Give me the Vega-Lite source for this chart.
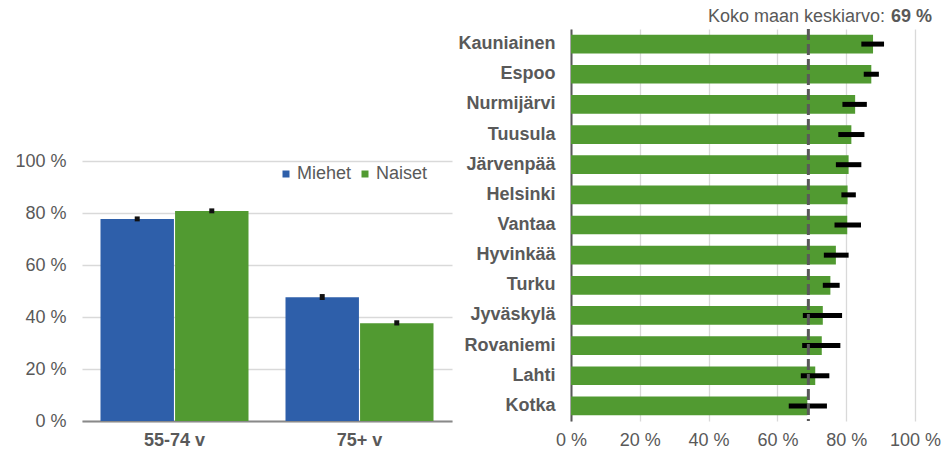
{
  "$schema": "https://vega.github.io/schema/vega-lite/v6.json",
  "padding": {"left": 14, "top": 8, "right": 5, "bottom": 5},
  "background": "white",
  "config": {
    "font": "Liberation Sans",
    "view": {"stroke": null},
    "axis": {"labelFont": "Liberation Sans", "labelColor": "#595959", "labelFontSize": 18, "ticks": false, "title": null, "gridColor": "#d9d9d9", "gridWidth": 1.3, "labelOverlap": false, "labelFlush": false},
    "legend": {"labelFont": "Liberation Sans", "labelColor": "#595959", "labelFontSize": 18}
  },
  "hconcat": [
    {
      "width": 370,
      "height": 392,
      "data": {"values": [
        {"group": "55-74 v", "sex": "Miehet", "value": 77.8, "lo": 76.9, "hi": 78.8},
        {"group": "55-74 v", "sex": "Naiset", "value": 80.9, "lo": 80.0, "hi": 81.9},
        {"group": "75+ v", "sex": "Miehet", "value": 47.7, "lo": 46.6, "hi": 48.9},
        {"group": "75+ v", "sex": "Naiset", "value": 37.7, "lo": 36.8, "hi": 38.8}
      ]},
      "encoding": {
        "x": {"field": "group", "type": "nominal", "sort": null,
          "scale": {"paddingInner": 0.2, "paddingOuter": 0.1},
          "axis": {"labelAngle": 0, "labelFontWeight": "bold", "labelPadding": 10, "domainColor": "#898989", "domainWidth": 2, "grid": false}},
        "xOffset": {"field": "sex", "type": "nominal", "sort": null, "scale": {"paddingInner": 0.015}}
      },
      "layer": [
        {
          "mark": {"type": "bar"},
          "encoding": {
            "y": {"field": "value", "type": "quantitative", "scale": {"domain": [0, 151], "nice": false},
              "axis": {"values": [0, 20, 40, 60, 80, 100], "labelExpr": "datum.value + ' %'", "domain": false, "labelPadding": 16}},
            "color": {"field": "sex", "type": "nominal", "sort": null,
              "scale": {"domain": ["Miehet", "Naiset"], "range": ["#2e5faa", "#519a31"]},
              "legend": {"title": null, "orient": "none", "legendX": 195, "legendY": 136, "direction": "horizontal",
                "symbolType": "square", "symbolSize": 49, "symbolOpacity": 1, "labelOffset": 2, "columnPadding": 4}}
          }
        },
        {
          "mark": {"type": "rule", "color": "#111111", "strokeWidth": 5},
          "encoding": {
            "y": {"field": "lo", "type": "quantitative"},
            "y2": {"field": "hi"}
          }
        }
      ]
    },
    {
      "width": 344,
      "height": 392,
      "encoding": {
        "y": {"field": "city", "type": "nominal", "sort": null,
          "scale": {"domain": ["Kauniainen", "Espoo", "Nurmijärvi", "Tuusula", "Järvenpää", "Helsinki", "Vantaa", "Hyvinkää", "Turku", "Jyväskylä", "Rovaniemi", "Lahti", "Kotka"], "paddingInner": 0.38, "paddingOuter": 0.19},
          "axis": {"labelFontWeight": "bold", "labelPadding": 16, "domainColor": "#595959", "domainWidth": 2, "grid": false}}
      },
      "layer": [
        {
          "data": {"values": [
            {"city": "Kauniainen", "value": 87.8, "lo": 84.4, "hi": 91.0},
            {"city": "Espoo", "value": 87.3, "lo": 85.1, "hi": 89.5},
            {"city": "Nurmijärvi", "value": 82.6, "lo": 78.9, "hi": 86.0},
            {"city": "Tuusula", "value": 81.5, "lo": 77.7, "hi": 85.3},
            {"city": "Järvenpää", "value": 80.7, "lo": 77.0, "hi": 84.4},
            {"city": "Helsinki", "value": 80.4, "lo": 78.6, "hi": 82.8},
            {"city": "Vantaa", "value": 80.3, "lo": 76.6, "hi": 84.3},
            {"city": "Hyvinkää", "value": 77.0, "lo": 73.5, "hi": 80.7},
            {"city": "Turku", "value": 75.4, "lo": 73.2, "hi": 78.1},
            {"city": "Jyväskylä", "value": 73.2, "lo": 67.4, "hi": 78.8},
            {"city": "Rovaniemi", "value": 72.9, "lo": 67.2, "hi": 78.3},
            {"city": "Lahti", "value": 71.0, "lo": 66.8, "hi": 75.1},
            {"city": "Kotka", "value": 68.7, "lo": 63.3, "hi": 74.4}
          ]},
          "layer": [
            {
              "mark": {"type": "bar", "color": "#519a31"},
              "encoding": {
                "x": {"field": "value", "type": "quantitative", "scale": {"domain": [0, 100], "nice": false},
                  "axis": {"values": [0, 20, 40, 60, 80, 100], "labelExpr": "datum.value + ' %'", "domain": false, "labelPadding": 10}}
              }
            },
            {
              "mark": {"type": "rule", "color": "#000000", "strokeWidth": 5},
              "encoding": {
                "x": {"field": "lo", "type": "quantitative"},
                "x2": {"field": "hi"}
              }
            }
          ]
        },
        {
          "data": {"values": [{"avg": 69, "label": "Koko maan keskiarvo:", "valueText": "69 %", "city": "Kauniainen", "top": 100}]},
          "layer": [
            {
              "mark": {"type": "rule", "color": "#595959", "strokeWidth": 3, "strokeDash": [11, 4]},
              "encoding": {"x": {"field": "avg", "type": "quantitative"}, "y": null}
            },
            {
              "mark": {"type": "text", "align": "right", "baseline": "middle", "fontSize": 18, "fontWeight": "bold", "color": "#595959", "dx": 17, "dy": -27},
              "encoding": {
                "x": {"field": "top", "type": "quantitative"},
                "text": {"field": "valueText"}
              }
            },
            {
              "mark": {"type": "text", "align": "right", "baseline": "middle", "fontSize": 18, "color": "#595959", "dx": -30, "dy": -27},
              "encoding": {
                "x": {"field": "top", "type": "quantitative"},
                "text": {"field": "label"}
              }
            }
          ]
        }
      ]
    }
  ],
  "spacing": 119,
  "bounds": "flush",
  "align": "each"
}
